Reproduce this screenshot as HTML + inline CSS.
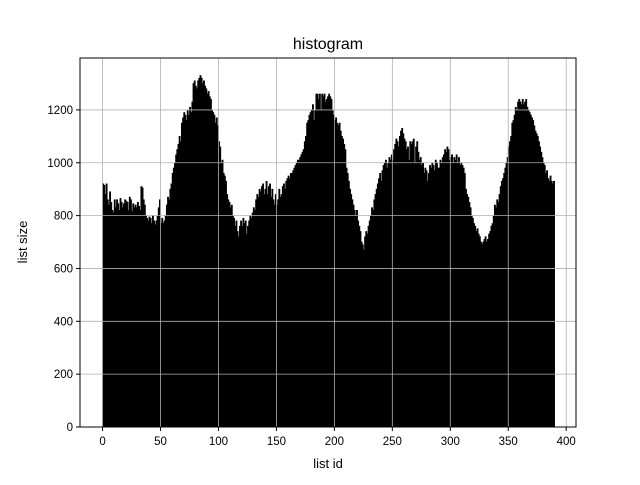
<!DOCTYPE html>
<html><head><meta charset="utf-8"><style>
body{margin:0;background:#fff}
svg text{font-family:"Liberation Sans","DejaVu Sans",sans-serif;fill:#000}
</style></head><body>
<svg id="chart" width="640" height="480" xmlns="http://www.w3.org/2000/svg">
<rect x="0" y="0" width="640" height="480" fill="#fff"/>
<g id="bars"></g>
<g id="grid"></g>
<rect x="80" y="58" width="496" height="369" fill="none" stroke="#000" stroke-width="1"/>
<g id="xticks"></g>
<g id="yticks"></g>
<text x="328" y="49" font-size="16" text-anchor="middle">histogram</text>
<text x="328" y="468" font-size="13" text-anchor="middle">list id</text>
<text x="27" y="242" font-size="13" text-anchor="middle" transform="rotate(-90 27 242)">list size</text>
</svg>
<script>
const counts = [
920,915,880,920,860,840,890,850,820,810,
860,830,860,845,820,865,850,830,845,860,
855,850,820,870,860,815,845,830,840,830,
850,835,820,910,905,860,840,800,790,780,
795,790,770,800,780,765,780,800,830,860,
770,790,770,780,800,840,870,860,900,920,
960,980,1000,1030,1050,1070,1100,1080,1150,1170,
1190,1180,1160,1200,1180,1210,1190,1230,1300,1310,
1290,1280,1310,1320,1330,1320,1300,1310,1290,1280,
1260,1270,1250,1240,1200,1190,1180,1150,1170,1140,
1080,1060,1000,1010,960,950,930,880,860,850,
830,840,800,790,760,780,740,720,760,780,
760,790,770,780,730,760,780,800,790,810,
830,820,860,880,870,900,890,910,920,880,
900,930,880,910,920,870,900,860,840,880,
840,860,900,870,880,910,920,900,930,940,
950,940,960,960,970,980,990,1000,1010,1010,
1020,1030,1040,1050,1080,1100,1150,1160,1180,1190,
1200,1220,1160,1200,1260,1260,1240,1260,1200,1260,
1250,1260,1230,1240,1250,1260,1250,1240,1200,1180,
1160,1170,1150,1140,1150,1120,1100,1090,1070,1050,
980,960,930,900,880,860,840,820,800,820,
780,760,740,700,690,670,720,740,730,760,
780,800,830,820,860,880,900,920,940,960,
930,970,990,1000,1010,980,1000,1020,1010,1030,
1010,1050,1070,1090,1080,1060,1100,1120,1130,1110,
1090,1080,1050,1060,1010,1080,1070,1080,1090,1000,
1060,1080,1040,1010,1020,990,1000,960,980,970,
930,960,990,980,1000,990,970,1010,1000,980,
980,1010,1000,1020,1030,1050,1040,1060,1050,1010,
1020,1030,1000,1020,1010,1030,1000,1020,990,1000,
990,980,960,900,880,870,850,830,800,790,
770,760,740,750,730,720,700,690,700,710,
720,700,710,730,740,760,770,800,840,830,
860,850,880,910,930,940,960,980,1000,1020,
1060,1080,1100,1150,1160,1180,1210,1200,1230,1240,
1230,1220,1240,1220,1230,1240,1210,1200,1190,1180,
1170,1160,1140,1120,1110,1100,1080,1060,1040,1020,
1000,990,960,970,940,930,950,930,920,930];
const xTicks = [0,50,100,150,200,250,300,350,400];
const yTicks = [0,200,400,600,800,1000,1200];
const NS='http://www.w3.org/2000/svg';
const L=80,R=576,T=58,B=427;
const xmin=-19.45,xmax=counts.length+18.45,ymax=Math.max(...counts)*1.05;
const sx=v=>L+(v-xmin)/(xmax-xmin)*(R-L);
const sy=v=>B-v/ymax*(B-T);
const bars=document.getElementById('bars');
counts.forEach((c,i)=>{
  const r=document.createElementNS(NS,'rect');
  r.setAttribute('x',sx(i));r.setAttribute('width',sx(i+1)-sx(i));
  r.setAttribute('y',sy(c));r.setAttribute('height',B-sy(c));
  r.setAttribute('fill','#000');r.setAttribute('stroke','#000');r.setAttribute('stroke-width','0.7');
  
  
  bars.appendChild(r);
});
const grid=document.getElementById('grid'),xt=document.getElementById('xticks'),yt=document.getElementById('yticks');
xTicks.forEach(t=>{
  const x=sx(t);
  const g=document.createElementNS(NS,'line');
  g.setAttribute('x1',x);g.setAttribute('x2',x);g.setAttribute('y1',T);g.setAttribute('y2',B);
  g.setAttribute('stroke','#b0b0b0');g.setAttribute('stroke-width','0.8');
  
  
  grid.appendChild(g);
  const tk=document.createElementNS(NS,'line');
  tk.setAttribute('x1',x);tk.setAttribute('x2',x);tk.setAttribute('y1',B);tk.setAttribute('y2',B+4);tk.setAttribute('stroke','#000');
  
  
  xt.appendChild(tk);
  const tx=document.createElementNS(NS,'text');
  tx.setAttribute('x',x);tx.setAttribute('y',B+18);tx.setAttribute('font-size','11.5');tx.setAttribute('text-anchor','middle');
  tx.textContent=t;
  
  
  xt.appendChild(tx);
});
yTicks.forEach(t=>{
  const y=sy(t);
  const g=document.createElementNS(NS,'line');
  g.setAttribute('x1',L);g.setAttribute('x2',R);g.setAttribute('y1',y);g.setAttribute('y2',y);
  g.setAttribute('stroke','#b0b0b0');g.setAttribute('stroke-width','0.8');
  
  
  grid.appendChild(g);
  const tk=document.createElementNS(NS,'line');
  tk.setAttribute('x1',L-4);tk.setAttribute('x2',L);tk.setAttribute('y1',y);tk.setAttribute('y2',y);tk.setAttribute('stroke','#000');
  
  
  yt.appendChild(tk);
  const tx=document.createElementNS(NS,'text');
  tx.setAttribute('x',L-7);tx.setAttribute('y',y+4);tx.setAttribute('font-size','11.5');tx.setAttribute('text-anchor','end');
  tx.textContent=t;
  
  
  yt.appendChild(tx);
});
</script>
</body></html>
